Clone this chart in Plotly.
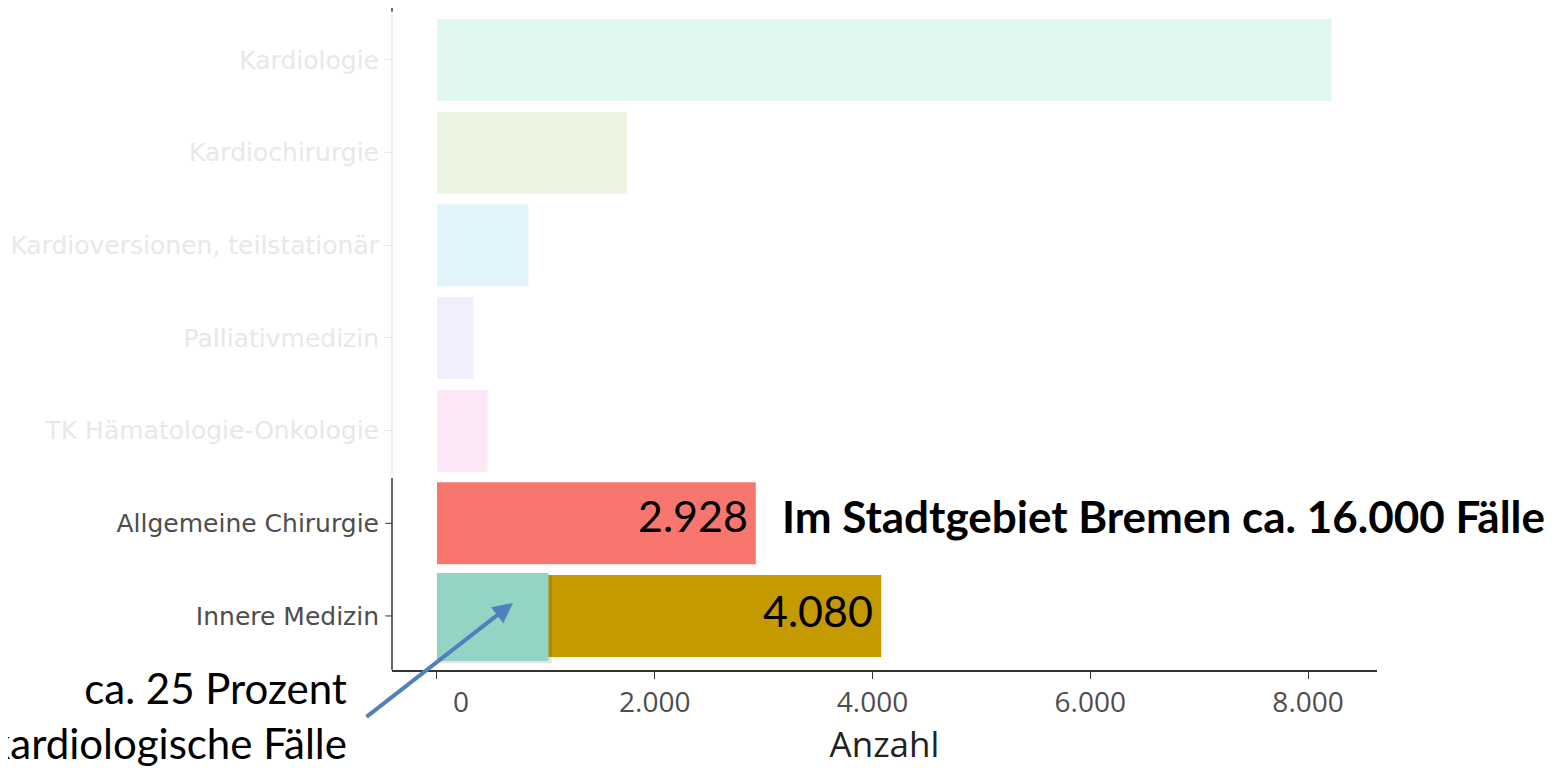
import plotly.graph_objects as go

# ---- data ----
categories = ["Innere Medizin", "Allgemeine Chirurgie", "TK Hämatologie-Onkologie",
              "Palliativmedizin", "Kardioversionen, teilstationär", "Kardiochirurgie", "Kardiologie"]
values = [4080, 2928, 465, 335, 840, 1745, 8215]
bar_colors = ["#c49a00", "#f8766d", "#fde8f8", "#f1effd", "#e1f4fb", "#ebf5e2", "#e0f6f0"]
faded = [False, False, True, True, True, True, True]
kardio_share = 1025  # ca. 25 % von 4.080
xtick_vals = [0, 2000, 4000, 6000, 8000]
xtick_text = ["\u2007\u2007\u20070", "2.000", "4.000", "6.000", "8.000"]
value_labels = {"Allgemeine Chirurgie": ("2.928", 8), "Innere Medizin": ("4.080", 5)}

DARK = "#333333"
FADE = "#e8e8e8"

ticktext = [f'<span style="color:{FADE if f else "#4d4d4d"}">{c}</span>'
            for c, f in zip(categories, faded)]
idx = list(range(len(categories)))

fig = go.Figure()
fig.add_trace(go.Bar(
    y=idx, x=values, orientation="h",
    marker=dict(color=bar_colors, line=dict(width=0)),
    width=0.885, hoverinfo="skip", showlegend=False,
))

shapes = []
ylo, yhi = -0.583, 6.561
# y-axis line: dark bottom part, faded middle part, dark stub at top
shapes.append(dict(type="line", xref="paper", yref="y", x0=0, x1=0, y0=ylo, y1=1.49,
                   line=dict(color=DARK, width=1.5)))
shapes.append(dict(type="line", xref="paper", yref="y", x0=0, x1=0, y0=1.51, y1=6.49,
                   line=dict(color=FADE, width=1.5)))
shapes.append(dict(type="line", xref="paper", yref="y", x0=0, x1=0, y0=6.52, y1=yhi,
                   line=dict(color=DARK, width=1.5)))
# dark ticks for the two highlighted categories
for i, f in enumerate(faded):
    if not f:
        shapes.append(dict(type="line", xref="paper", yref="y", x0=-0.0065, x1=0, y0=i, y1=i,
                           line=dict(color=DARK, width=1)))
# kardiologischer Anteil (box over Innere Medizin) with soft shadow
shapes.append(dict(type="rect", xref="x", yref="y", x0=30, x1=kardio_share + 30, y0=-0.51, y1=0.44,
                   fillcolor="rgba(0,0,0,0.10)", line=dict(width=0), layer="above"))
shapes.append(dict(type="rect", xref="x", yref="y", x0=0, x1=kardio_share, y0=-0.486, y1=0.464,
                   fillcolor="#94d4c4", line=dict(width=0), layer="above"))

annotations = []
for cat, (txt, ys) in value_labels.items():
    i = categories.index(cat)
    annotations.append(dict(x=values[i], y=i, xref="x", yref="y", text=txt, showarrow=False,
                            xanchor="right", xshift=-6, yshift=ys,
                            font=dict(family="Lato", size=43, color="black")))
annotations.append(dict(x=3150, y=1, xref="x", yref="y", xanchor="left", showarrow=False,
                        yshift=7,
                        text="<b>Im Stadtgebiet Bremen ca. 16.000 Fälle</b>",
                        font=dict(family="Lato", size=44, color="black")))
annotations.append(dict(x=-0.044, y=0.0138, xref="paper", yref="paper", xanchor="right", yanchor="top",
                        align="right", showarrow=False,
                        text="ca. 25 Prozent<br>kardiologische Fälle",
                        font=dict(family="Lato", size=42, color="black")))
annotations.append(dict(x=698, y=0.14, xref="x", yref="y", ax=-148, ay=115, text="",
                        showarrow=True, arrowhead=2, arrowsize=1.0, arrowwidth=4,
                        arrowcolor="#4f81bd"))

fig.update_layout(
    width=1552, height=760,
    margin=dict(l=384, r=183, t=0, b=98),
    paper_bgcolor="white", plot_bgcolor="white",
    shapes=shapes, annotations=annotations,
    xaxis=dict(range=[-413, 8633], tickvals=xtick_vals, ticktext=xtick_text,
               showline=True, linecolor=DARK, linewidth=1.5, ticks="outside",
               tickcolor=DARK, ticklen=7, showgrid=False, zeroline=False,
               tickfont=dict(family="Open Sans", size=28, color="#4d4d4d"),
               title=dict(text="Anzahl", standoff=12,
                          font=dict(family="Open Sans", size=35, color="#222222"))),
    yaxis=dict(range=[ylo, yhi], tickvals=idx, ticktext=ticktext, showline=False,
               ticks="outside", tickcolor=FADE, ticklen=7, showgrid=False, zeroline=False,
               tickfont=dict(family="DejaVu Sans", size=25, color="#4d4d4d")),
)

fig.write_html("out.html")
